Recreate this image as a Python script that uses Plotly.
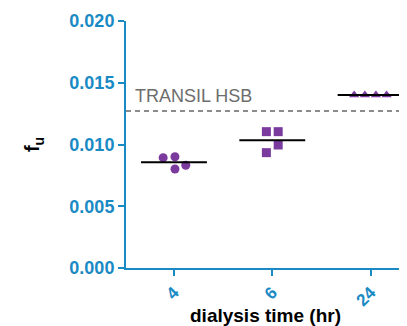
import plotly.graph_objects as go

categories = ["4", "6", "24"]
fu_4h = [0.00893, 0.00901, 0.00802, 0.00832]
fu_6h = [0.01104, 0.01104, 0.00996, 0.00934]
fu_24h = [0.01401, 0.01401, 0.01401, 0.01401]
transil_hsb = 0.01271
y_ticks = [0.000, 0.005, 0.010, 0.015, 0.020]

series = [fu_4h, fu_6h, fu_24h]
symbols = ["circle", "square", "triangle-up"]
jitter = [[-0.11, 0.01, 0.01, 0.12], [-0.06, 0.06, 0.06, -0.06], [-0.167, -0.058, 0.054, 0.163]]

BLUE = "#1A8AC4"
PURPLE = "#7B3A9E"

fig = go.Figure()
for i, (vals, sym, jit) in enumerate(zip(series, symbols, jitter)):
    fig.add_trace(go.Scatter(
        x=[i + j for j in jit], y=vals, mode="markers",
        marker=dict(symbol=sym, size=9, color=PURPLE, line=dict(width=0)),
        showlegend=False, cliponaxis=False))
    m = sum(vals) / len(vals)
    fig.add_trace(go.Scatter(
        x=[i - 0.335, i + 0.335], y=[m, m], mode="lines",
        line=dict(color="black", width=2), showlegend=False))

fig.add_shape(type="line", xref="paper", x0=0, x1=1, yref="y", y0=transil_hsb, y1=transil_hsb,
              line=dict(color="#666666", width=1.5, dash="5px,4px"))
fig.add_annotation(xref="paper", x=0.025, y=transil_hsb, yref="y", text="TRANSIL HSB",
                   showarrow=False, xanchor="left", yanchor="bottom", yshift=3,
                   font=dict(family="Liberation Sans, Arial", size=18, color="#6d6d6d"))

# page body adds ~8px offset; compensate so plot area sits at x 126-405, y 21-268
fig.update_layout(
    width=399, height=318,
    margin=dict(l=118, r=2, t=13, b=58),
    plot_bgcolor="white", paper_bgcolor="white",
    font=dict(family="Liberation Sans, Arial"),
)
fig.update_xaxes(
    range=[-0.488, 2.35], tickvals=[0, 1, 2], ticktext=categories, tickangle=-45,
    showgrid=False, zeroline=False, showline=True, linecolor=BLUE, linewidth=2,
    ticks="outside", ticklen=6, tickwidth=2, tickcolor=BLUE, automargin=False,
    tickfont=dict(family="Liberation Sans, Arial", size=17, color=BLUE, weight="bold"),
    title=dict(text="<b>dialysis time (hr)</b>", font=dict(size=19, color="black"), standoff=11),
)
fig.update_yaxes(
    range=[0, 0.020], tickvals=y_ticks, ticktext=[f"{v:.3f}" for v in y_ticks],
    showgrid=False, zeroline=False, showline=True, linecolor=BLUE, linewidth=2,
    ticks="outside", ticklen=6, tickwidth=2, tickcolor=BLUE, automargin=False,
    tickfont=dict(family="Liberation Sans, Arial", size=18, color=BLUE, weight="bold"),
    title=dict(text="<b>f<sub>u</sub></b>", font=dict(size=20, color="black"), standoff=24),
)
fig.write_html("out.html")
